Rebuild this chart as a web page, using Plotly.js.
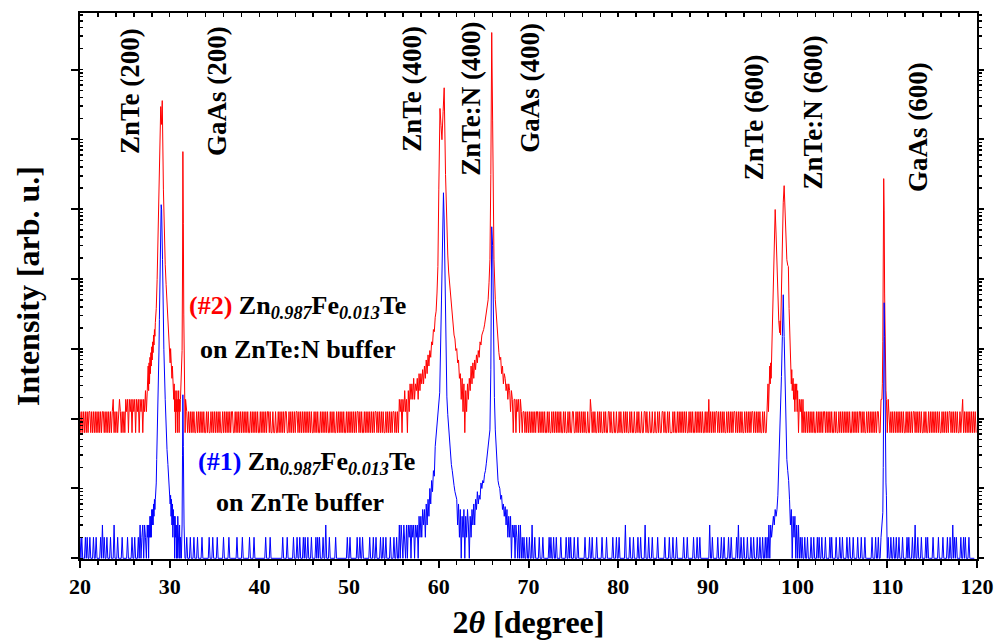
<!DOCTYPE html>
<html>
<head>
<meta charset="utf-8">
<script src="https://cdn.plot.ly/plotly-3.0.1.min.js"></script>
<style>html,body{margin:0;padding:0;background:#fff;}#chart{width:999px;height:641px;}</style>
</head>
<body>
<div id="chart"></div>
<script>
// ---------- DATA (counts) ----------
// Baseline noise: one string per degree (20,21,...,119), one digit per 0.1 deg (count level).
// '.' = inside a peak window (values given in the peak arrays below).
const blueNoise = [
"2121112121","1211121121","1112131211","2111211131","1121111211","1112111121","121112....","","","","",
"........12","1112111211","1211112111","1111211121","1112111111","2111112111","1111121111","1211111112","1111211111",
"1111111211","1121111111","1111112111","1211111121","1121121112","1211211121","1112121211","1211311121","1111121111",
"1111111121","1211111112","1121121111","1112111211","2111121121","1211112111","21121.....",
"","","","","","","","","","","","","",
".....21121","1211311211","1121112111","1112121121","1211112111","1121121211","1211121111","1112111121","1211112111",
"1121111211","1111211121","1211111131","1112111211","1121121111","3111211121","1111211111","1121111211","1211121111",
"1112111211","1111211121","1211111111","1131121111","1211121121","1112112111","1121311211","2111211121","1211121121",
"12112.....","","","",".....21121","1211121121","1121211211","1211112121","1112111211","2111121121","1121111211",
"1211121111","1112111211","21........","...1211211","2112111211","1121211121","1311211121","1112121111","1211111211",
"1121111211","2113121211","1121121211","12111111"
];
const redNoise = [
"2121212121","2212121212","1212122121","2121212312","1212321212","","","","","","",
".........2","1212121211","2121212121","1212112121","2121212112","1212121212","2112121212","1212121211","2121212121",
"1212121212","2121121121","1212121212","2112121212","1221212121","2121212121","1212121121","2121212112","1212112121",
"2121211212","1212121212","2121211212","1212121212","2121212121","1212121212","21212.....",
"","","","","","","","","","","","","",
".....21212","1212121212","2121212121","1212112121","2121212112","1211212112","2112121212","1212112113","2121211212",
"1211212112","2121121121","1212112121","2112121121","1212112112","2121121121","1211212112","2121121211","1212112121",
"2121212112","1212112121","2121211212","1312121212","2121212121","1212121212","2121212121","1212121212","2121212121",
"12121.....","","","","","2121212121","1212121212","2121212121","1212112121","2121212121","1212121212",
"2121211212","1212121212","21........","...1212121","2121212121","1212121212","2121212121","1212112121","2121212121",
"1212121212","2121212121","1212312121","2121212121"
];

// Peak windows: [2theta (deg), counts]
const blue200 = [[26.6,1],[26.7,3],[26.8,1],[26.9,2],[27.0,3],[27.1,1],[27.2,3],[27.3,2],[27.4,1],[27.5,3],[27.55,2],[27.6,3],[27.65,1],[27.7,3],[27.75,2],[27.8,4],[27.85,2],[27.9,4],[27.95,2],[28.0,5],[28.05,3],[28.1,5],[28.15,3],[28.2,6],[28.25,4],[28.3,7],[28.35,5],[28.4,7],[28.5,12],[28.55,26],[28.6,45],[28.7,187],[28.8,900],[28.85,2640],[28.95,19000],[29.05,116000],[29.1,98000],[29.2,19000],[29.25,5000],[29.35,970],[29.5,187],[29.6,69],[29.7,36],[29.8,22],[29.9,14],[30.0,9.6],[30.05,6],[30.1,8],[30.15,4],[30.2,7],[30.25,3],[30.3,6],[30.35,2],[30.4,5],[30.45,3],[30.5,4],[30.55,1],[30.6,4],[30.65,2],[30.7,3],[30.75,1],[30.8,3],[30.85,1],[30.9,4],[30.95,2],[31.0,3],[31.05,1],[31.1,3],[31.15,1],[31.2,2],[31.3,1],[31.38,3],[31.43,30],[31.47,220],[31.52,40],[31.6,3],[31.7,1]];
const blue400 = [[55.5,1],[55.6,3],[55.7,1],[55.8,3],[55.9,2],[56.0,1],[56.1,3],[56.2,2],[56.3,1],[56.4,3],[56.5,1],[56.6,3],[56.7,2],[56.8,3],[56.9,1],[57.0,3],[57.1,2],[57.2,3],[57.3,1],[57.4,3],[57.5,2],[57.6,3],[57.7,1],[57.8,4],[57.9,2],[58.0,4],[58.1,2],[58.2,5],[58.3,3],[58.4,5],[58.5,2],[58.6,6],[58.7,3],[58.8,7],[58.9,4],[59.0,10],[59.1,6],[59.2,13],[59.3,9],[59.4,18],[59.5,15],[59.6,40],[59.75,70],[59.9,121],[60.1,235],[60.3,5000],[60.4,50000],[60.52,172000],[60.6,70000],[60.7,5000],[60.8,700],[60.9,205],[61.0,114],[61.1,70],[61.25,40],[61.4,22],[61.5,18],[61.6,13],[61.7,11],[61.8,9],[61.9,8],[62.0,7],[62.1,3],[62.2,6],[62.3,2],[62.4,5],[62.5,1],[62.6,4],[62.7,2],[62.8,5],[62.9,1],[63.0,4],[63.1,2],[63.2,5],[63.3,3],[63.4,1],[63.5,4],[63.6,2],[63.7,5],[63.8,3],[63.9,6],[64.0,3],[64.1,7],[64.2,5],[64.3,9],[64.4,6],[64.5,8],[64.6,7],[64.7,12],[64.8,10],[64.9,13],[65.0,12],[65.1,16],[65.2,18],[65.3,23],[65.4,30],[65.5,40],[65.6,50],[65.7,69],[65.8,500],[65.9,56000],[66.0,30000],[66.1,1500],[66.2,200],[66.3,69],[66.45,25],[66.6,13],[66.7,11],[66.8,10],[66.9,7],[67.0,8],[67.1,5],[67.2,6],[67.3,4],[67.4,5.5],[67.5,3],[67.6,5],[67.7,2],[67.8,4],[67.9,2],[68.0,4],[68.1,1],[68.2,3],[68.3,2],[68.4,3],[68.5,1],[68.6,3],[68.7,2],[68.8,1],[68.9,3],[69.0,1],[69.1,3],[69.2,1],[69.3,2],[69.4,1]];
const blue600 = [[96.5,1],[96.6,2],[96.7,1],[96.8,3],[96.9,1],[97.0,3],[97.1,2],[97.2,3],[97.3,4],[97.4,3],[97.5,5],[97.6,4],[97.7,5],[97.8,8],[97.85,12],[97.9,20],[98.0,40],[98.1,110],[98.2,400],[98.3,1500],[98.4,5950],[98.5,1500],[98.6,300],[98.7,70],[98.8,26],[98.9,18],[99.0,13],[99.1,7],[99.15,4.5],[99.2,3],[99.3,5],[99.4,1],[99.5,4],[99.6,2],[99.7,4],[99.8,1],[99.9,3],[100.0,1],[100.1,3],[100.2,1],[100.3,2],[100.4,1]];
const blueGaAs600 = [[109.2,1],[109.3,2],[109.4,3],[109.5,4.5],[109.55,20],[109.6,600],[109.65,4570],[109.7,1500],[109.75,100],[109.8,17],[109.85,12],[109.9,8],[109.95,3],[110.0,1],[110.1,2],[110.2,1]];

const red200 = [[25.0,1],[25.1,3],[25.2,2],[25.3,3],[25.4,1],[25.5,3],[25.6,2],[25.7,3],[25.8,1],[25.9,3],[26.0,2],[26.1,3],[26.2,1],[26.3,3],[26.4,2],[26.5,3],[26.6,1],[26.7,3],[26.8,2],[26.9,3],[27.0,1],[27.1,3],[27.2,2],[27.3,4],[27.4,2],[27.5,4],[27.6,9],[27.65,4],[27.7,10],[27.75,5],[27.8,12],[27.85,7],[27.9,14],[27.95,9],[28.0,17],[28.05,11],[28.1,20],[28.15,14],[28.2,25],[28.25,18],[28.3,30],[28.35,24],[28.4,38],[28.5,60],[28.6,156],[28.7,600],[28.8,4000],[28.9,25000],[29.0,46800],[29.08,26000],[29.17,57000],[29.3,3000],[29.4,600],[29.5,254],[29.6,132],[29.7,75],[29.8,50],[29.9,30],[30.0,18],[30.05,10],[30.1,16],[30.15,8],[30.2,11],[30.25,6],[30.3,9],[30.35,4],[30.4,6],[30.45,3],[30.5,5],[30.55,2],[30.6,4],[30.65,1],[30.7,3],[30.75,2],[30.8,4],[30.85,1],[30.9,3],[30.95,2],[31.0,4],[31.05,1],[31.1,3],[31.15,2],[31.2,3],[31.25,5],[31.3,8],[31.38,15],[31.43,200],[31.47,10600],[31.52,1000],[31.57,50],[31.62,5],[31.67,3],[31.72,1],[31.77,3],[31.82,2]];
const red400 = [[55.5,1],[55.6,3],[55.7,2],[55.8,3],[55.9,1],[56.0,3],[56.1,2],[56.2,4],[56.3,2],[56.4,3],[56.5,1],[56.6,4],[56.7,2],[56.8,5],[56.9,3],[57.0,5],[57.1,3],[57.2,6],[57.3,3],[57.4,5],[57.5,4],[57.6,6],[57.7,3],[57.8,7],[57.9,4],[58.0,7],[58.1,5],[58.2,8],[58.3,5],[58.4,9],[58.5,6],[58.6,11],[58.7,7],[58.8,13],[58.9,9],[59.0,15],[59.1,12],[59.2,20],[59.3,18],[59.4,30],[59.5,28],[59.6,45],[59.7,55],[59.8,100],[59.9,240],[60.0,3000],[60.13,44000],[60.25,25000],[60.35,15700],[60.48,40000],[60.6,87000],[60.75,5000],[60.9,733],[61.0,350],[61.1,200],[61.25,112],[61.4,60],[61.5,45],[61.6,33],[61.7,25],[61.8,22],[61.9,15],[62.0,16],[62.1,10],[62.2,11],[62.3,6],[62.4,7],[62.5,3],[62.6,6],[62.7,2],[62.8,5],[62.9,1],[63.0,4],[63.1,2],[63.2,5],[63.3,3],[63.4,6],[63.5,4],[63.6,9],[63.7,5],[63.8,10],[63.9,6],[64.0,11],[64.1,8],[64.2,13],[64.3,10],[64.4,15],[64.5,12],[64.6,20],[64.7,18],[64.8,25],[64.9,27],[65.0,30],[65.1,35],[65.2,45],[65.3,50],[65.4,65],[65.5,80],[65.6,140],[65.7,300],[65.8,5000],[65.9,538000],[66.0,30000],[66.1,1500],[66.15,300],[66.3,80],[66.4,50],[66.5,27],[66.6,20],[66.7,14],[66.8,11],[66.9,12],[67.0,7],[67.1,9],[67.2,5],[67.3,7],[67.4,6],[67.5,4],[67.6,5],[67.7,3],[67.8,5],[67.9,4],[68.0,2],[68.1,4],[68.2,3],[68.3,1],[68.4,3],[68.5,3],[68.6,1],[68.7,3],[68.8,2],[68.9,3],[69.0,1],[69.1,3],[69.2,2],[69.3,1],[69.4,2]];
const red600 = [[96.5,1],[96.6,2],[96.7,5],[96.75,2],[96.8,6],[96.85,3],[96.9,9],[96.95,5],[97.0,10],[97.05,6],[97.1,11],[97.15,20],[97.2,60],[97.3,141],[97.4,600],[97.5,1570],[97.6,700],[97.7,200],[97.8,80],[97.9,40],[98.0,27],[98.05,40],[98.1,25],[98.15,60],[98.2,141],[98.3,600],[98.4,2000],[98.5,3450],[98.6,1200],[98.7,400],[98.8,300],[98.9,250],[98.97,240],[99.05,60],[99.15,15],[99.2,8],[99.25,12],[99.3,5],[99.35,8],[99.4,4],[99.5,6],[99.55,3],[99.6,5],[99.7,2],[99.75,5],[99.8,3],[99.9,5],[99.95,2],[100.0,4],[100.1,1],[100.2,3],[100.3,2],[100.4,3],[100.5,1],[100.6,3],[100.7,1],[100.8,2],[100.9,1]];
const redGaAs600 = [[109.2,1],[109.3,3],[109.4,3],[109.45,5],[109.5,20],[109.55,300],[109.6,4350],[109.65,1500],[109.7,100],[109.75,12],[109.8,10],[109.85,4],[109.9,3],[110.0,1],[110.1,3],[110.2,2]];

const peakLabels = ["ZnTe (200)","GaAs (200)","ZnTe (400)","ZnTe:N (400)","GaAs (400)","ZnTe (600)","ZnTe:N (600)","GaAs (600)"];

// ---------- BUILD ----------
const RED_OFFSET = 63;   // vertical offset factor of sample #2 on the log axis
function build(noise, peaks, factor) {
  const pts = [];
  noise.forEach((g, gi) => {
    for (let k = 0; k < g.length; k++) {
      const c = g[k];
      if (c !== '.') pts.push([Math.round((20 + gi + k * 0.1) * 100) / 100, +c]);
    }
  });
  peaks.forEach(arr => arr.forEach(p => pts.push(p)));
  pts.sort((a, b) => a[0] - b[0]);
  return { x: pts.map(p => p[0]), y: pts.map(p => p[1] * factor) };
}
const red = build(redNoise, [red200, red400, red600, redGaAs600], RED_OFFSET);
const blue = build(blueNoise, [blue200, blue400, blue600, blueGaAs600], 1);

const FONT = "Liberation Serif, Times New Roman, serif";
const traces = [
  { x: red.x, y: red.y, type: 'scatter', mode: 'lines', line: { color: '#ff0000', width: 1 }, name: '#2', hoverinfo: 'x+y' },
  { x: blue.x, y: blue.y, type: 'scatter', mode: 'lines', line: { color: '#0000ff', width: 1 }, name: '#1', hoverinfo: 'x+y' },
  { x: [], y: [], xaxis: 'x2', yaxis: 'y2', type: 'scatter', mode: 'lines', showlegend: false, hoverinfo: 'skip' }
];

const YR = [-0.01, 7.81];
const labelPos = [[25.57,0.857],[35.27,0.857],[57.01,0.861],[63.59,0.843],[70.17,0.863],[95.14,0.809],[101.72,0.818],[113.42,0.791]];
const annotations = peakLabels.map((t, i) => ({
  x: labelPos[i][0], y: labelPos[i][1], xref: 'x', yref: 'paper', text: t, textangle: -90,
  showarrow: false, xanchor: 'center', yanchor: 'middle', font: { family: FONT, size: 27, color: '#000', weight: 'bold' }
}));
const sampleFont = { family: FONT, size: 26, color: '#000', weight: 'bold' };
annotations.push(
  { x: 44.3, y: 0.4615, xref: 'x', yref: 'paper', showarrow: false, xanchor: 'center', yanchor: 'middle', font: sampleFont,
    text: '<span style="color:#ff0000">(#2)</span> Zn<sub><i>0.987</i></sub>Fe<sub><i>0.013</i></sub>Te' },
  { x: 44.3, y: 0.383, xref: 'x', yref: 'paper', showarrow: false, xanchor: 'center', yanchor: 'middle', font: sampleFont,
    text: 'on ZnTe:N buffer' },
  { x: 45.25, y: 0.176, xref: 'x', yref: 'paper', showarrow: false, xanchor: 'center', yanchor: 'middle', font: sampleFont,
    text: '<span style="color:#0000ff">(#1)</span> Zn<sub><i>0.987</i></sub>Fe<sub><i>0.013</i></sub>Te' },
  { x: 44.58, y: 0.104, xref: 'x', yref: 'paper', showarrow: false, xanchor: 'center', yanchor: 'middle', font: sampleFont,
    text: 'on ZnTe buffer' }
);

const layout = {
  width: 999, height: 641,
  margin: { l: 80, r: 22, t: 13, b: 82, pad: 0 },
  paper_bgcolor: '#fff', plot_bgcolor: '#fff',
  showlegend: false,
  font: { family: FONT, size: 22, color: '#000', weight: 'bold' },
  xaxis: {
    range: [20, 120], tick0: 20, dtick: 10, ticks: 'outside', ticklen: 7, tickwidth: 2, tickcolor: '#000',
    showline: true, linewidth: 2, linecolor: '#000', showgrid: false, zeroline: false,
    tickfont: { family: FONT, size: 22, color: '#000', weight: 'bold' },
    minor: { dtick: 2, ticks: 'outside', ticklen: 4, tickwidth: 1.5, tickcolor: '#000', showgrid: false },
    title: { text: '2<i>θ</i> [degree]', font: { family: FONT, size: 32, color: '#000', weight: 'bold' }, standoff: 12 },
    automargin: false
  },
  xaxis2: {
    overlaying: 'x', side: 'top', anchor: 'y', range: [20, 120], tick0: 20, dtick: 2, ticks: 'inside', ticklen: 4, tickwidth: 1.5,
    tickcolor: '#000', showticklabels: false, showline: true, linewidth: 2, linecolor: '#000', showgrid: false, zeroline: false
  },
  yaxis: {
    type: 'log', range: YR, dtick: 1, ticks: 'outside', ticklen: 7, tickwidth: 2, tickcolor: '#000',
    showticklabels: false, showline: true, linewidth: 2, linecolor: '#000', showgrid: false, zeroline: false,
    minor: { dtick: 'D1', ticks: 'inside', ticklen: 3, tickwidth: 1.5, tickcolor: '#000', showgrid: false },
    title: { text: 'Intensity [arb. u.]', font: { family: FONT, size: 32, color: '#000', weight: 'bold' }, standoff: 22 },
    automargin: false
  },
  yaxis2: {
    type: 'log', overlaying: 'y', side: 'right', anchor: 'x', range: YR, dtick: 1, ticks: 'outside', ticklen: 5, tickwidth: 2,
    tickcolor: '#000', showticklabels: false, showline: true, linewidth: 2, linecolor: '#000', showgrid: false, zeroline: false,
    minor: { dtick: 'D1', ticks: 'outside', ticklen: 3, tickwidth: 1.5, tickcolor: '#000', showgrid: false }
  },
  annotations: annotations
};

Plotly.newPlot('chart', traces, layout, { displayModeBar: false, staticPlot: true });
</script>
</body>
</html>
